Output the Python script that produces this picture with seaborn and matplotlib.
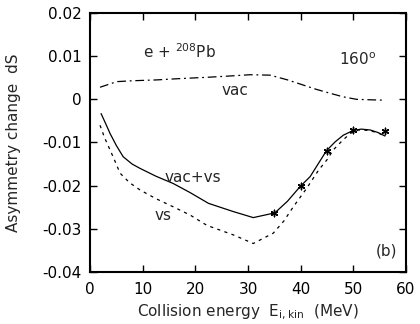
import matplotlib
matplotlib.use("Agg")
import matplotlib.pyplot as plt
import seaborn as sns
import pandas as pd

sns.set_style("ticks")
plt.rcParams['font.family'] = ['DejaVu Sans']
plt.rcParams['mathtext.fontset'] = 'dejavusans'

# vac (dash-dot)
vac_E = [1.9, 5.1, 8.0, 12.7, 17.0, 22.2, 26.5, 30.4, 34.2, 37.5, 40.5, 43.0, 45.6, 48.0, 50.6, 53.0, 56.0]
vac_S = [0.0028, 0.0041, 0.0043, 0.0045, 0.0048, 0.0051, 0.0054, 0.0057, 0.0056, 0.0045, 0.0033, 0.0023, 0.0014, 0.0006, 0.0000, -0.0001, -0.0002]

# vac+vs (solid)
vv_E = [2.1, 3.0, 3.8, 5.0, 6.3, 8.0, 9.5, 12.5, 15.8, 19.0, 22.5, 27.2, 31.0, 35.1, 37.5, 39.9, 41.8, 43.4, 44.9, 46.5, 48.1, 50.0, 51.5, 53.2, 54.7, 56.0]
vv_S = [-0.0033, -0.0057, -0.0079, -0.0107, -0.0133, -0.0150, -0.0160, -0.0178, -0.0195, -0.0216, -0.0241, -0.0260, -0.0274, -0.0263, -0.0236, -0.0202, -0.0179, -0.0148, -0.0119, -0.0099, -0.0083, -0.0072, -0.0069, -0.0071, -0.0077, -0.0085]

# vs (dotted)
vs_E = [1.9, 2.8, 3.8, 4.7, 5.7, 7.5, 9.5, 12.5, 15.8, 19.0, 22.2, 27.2, 31.0, 34.8, 36.8, 38.6, 41.2, 43.4, 45.0, 46.2, 47.8, 49.4, 51.0, 53.0, 54.7, 56.0]
vs_S = [-0.0060, -0.0090, -0.0117, -0.0142, -0.0171, -0.0193, -0.0210, -0.0230, -0.0249, -0.0268, -0.0292, -0.0314, -0.0334, -0.0310, -0.0282, -0.0249, -0.0205, -0.0164, -0.0140, -0.0117, -0.0097, -0.0079, -0.0071, -0.0072, -0.0078, -0.0085]

# data points (asterisks)
pt_E = [35, 40, 45, 50, 56]
pt_S = [-0.0263, -0.0201, -0.0119, -0.0070, -0.0073]

xticks = [0, 10, 20, 30, 40, 50, 60]
yticks = [-0.04, -0.03, -0.02, -0.01, 0, 0.01, 0.02]
ytick_labels = ['-0.04', '-0.03', '-0.02', '-0.01', '0', '0.01', '0.02']

fig = plt.figure(figsize=(4.2, 3.24), dpi=100)
ax = fig.add_axes([0.2143, 0.1605, 0.7524, 0.7994])

df_vac = pd.DataFrame({'E': vac_E, 'S': vac_S})
df_vv = pd.DataFrame({'E': vv_E, 'S': vv_S})
df_vs = pd.DataFrame({'E': vs_E, 'S': vs_S})
df_pt = pd.DataFrame({'E': pt_E, 'S': pt_S})

sns.lineplot(data=df_vac, x='E', y='S', ax=ax, color='black', lw=0.9, sort=False)
ax.lines[-1].set_dashes([7, 3, 1.5, 3])
sns.lineplot(data=df_vv, x='E', y='S', ax=ax, color='black', lw=0.9, sort=False)
sns.lineplot(data=df_vs, x='E', y='S', ax=ax, color='black', lw=0.9, sort=False)
ax.lines[-1].set_dashes([2.5, 3.5])
sns.scatterplot(data=df_pt, x='E', y='S', ax=ax, marker=(6, 2, 0), s=22, color='black',
                linewidth=1.0, edgecolor='black', zorder=5)

ax.set_xlim(0, 60)
ax.set_ylim(-0.04, 0.02)
ax.set_xticks(xticks)
ax.set_xticklabels([str(t) for t in xticks])
ax.set_yticks(yticks)
ax.set_yticklabels(ytick_labels)
ax.tick_params(direction='in', length=5, width=1.0, top=True, right=True,
               labelsize=11, colors='black')
ax.tick_params(axis='x', pad=7)
ax.tick_params(axis='y', pad=6)
for s in ax.spines.values():
    s.set_linewidth(1.5)
    s.set_color('black')

ax.set_xlabel(r'Collision energy  E$_{\mathrm{i,kin}}$  (MeV)', fontsize=11, labelpad=4)
ax.set_ylabel('Asymmetry change  dS', fontsize=11, labelpad=15)

ax.text(10.1, 0.0096, r'e + $^{208}$Pb', fontsize=11, va='baseline', ha='left')
ax.text(47.3, 0.0079, r'160$^{\mathrm{o}}$', fontsize=11, va='baseline', ha='left')
ax.text(27.5, 0.0010, 'vac', fontsize=11, va='baseline', ha='center')
ax.text(14.1, -0.0192, 'vac+vs', fontsize=11, va='baseline', ha='left')
ax.text(12.2, -0.0280, 'vs', fontsize=11, va='baseline', ha='left')
ax.text(54.3, -0.0361, '(b)', fontsize=11, va='baseline', ha='left')

fig.savefig('out.png', dpi=100)
